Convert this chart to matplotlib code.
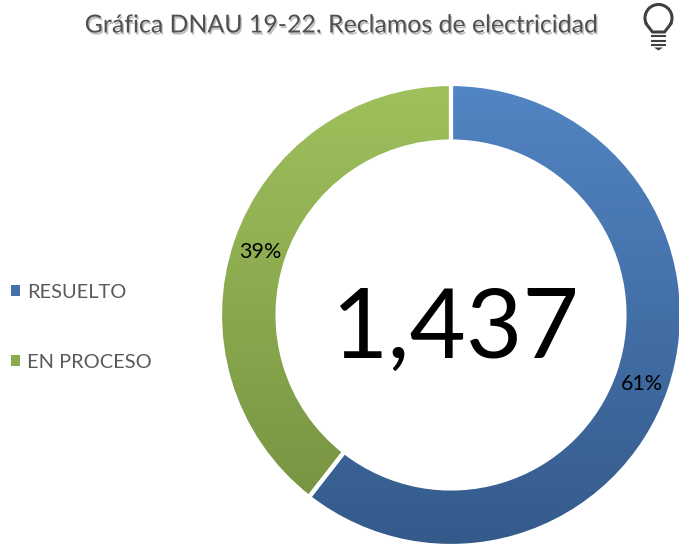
import matplotlib
matplotlib.use('Agg')
from matplotlib import pyplot as plt
from matplotlib import patheffects as pe
from matplotlib.colors import LinearSegmentedColormap
from matplotlib.patches import Patch, Circle, Rectangle, Polygon
import numpy as np

plt.rcParams['font.family'] = ['Lato', 'DejaVu Sans']

labels = ['RESUELTO', 'EN PROCESO']
counts = [870, 567]
total_text = '1,437'
title = 'Gráfica DNAU 19-22. Reclamos de electricidad'
top_colors = ['#5285C4', '#9FC15C']
bottom_colors = ['#345A8A', '#738F3F']
legend_colors = ['#4472A8', '#8AAA4E']

W, H = 679, 545
fig = plt.figure(figsize=(W / 100, H / 100), dpi=100)

# overlay in pixels for title and icon
over = fig.add_axes([0, 0, 1, 1])
over.set_xlim(0, W)
over.set_ylim(H, 0)
over.axis('off')

# donut
cx, cy, r = 451, 315, 231
ax = fig.add_axes([(cx - r) / W, 1 - (cy + r) / H, 2 * r / W, 2 * r / H])
wedges, _, pcts = ax.pie(counts, startangle=90, counterclock=False, radius=1,
                         autopct='%.0f%%', pctdistance=0.875,
                         wedgeprops=dict(width=0.249, facecolor='none', edgecolor='white', linewidth=3),
                         textprops=dict(fontsize=15.5, color='black'))
for t in pcts:
    x, y = t.get_position()
    t.set_position((x, y - 0.012))
ax.set_xlim(-1, 1)
ax.set_ylim(-1, 1)

grad = np.linspace(0, 1, 256).reshape(-1, 1)
for w, c0, c1 in zip(wedges, top_colors, bottom_colors):
    cmap = LinearSegmentedColormap.from_list('g', [c0, c1])
    im = ax.imshow(grad, extent=(-1, 1, -1, 1), origin='upper', cmap=cmap, aspect='auto', zorder=0)
    im.set_clip_path(w.get_path(), w.get_transform())
ax.set_xlim(-1, 1)
ax.set_ylim(-1, 1)

ax.text(0.017, -0.07, total_text, ha='center', va='center', fontsize=70, color='black')

# title with soft shadow
over.text(341, 25, title, ha='center', va='center', fontsize=17.9, color='#505050',
          path_effects=[pe.SimplePatchShadow(offset=(1, -1.5), shadow_rgbFace='#b0b0b0', alpha=0.8), pe.Normal()])

# legend
handles = [Patch(facecolor=c, edgecolor='none') for c in legend_colors]
fig.legend(handles, labels, loc='center left', bbox_to_anchor=(11 / W, 1 - 327 / H), frameon=False,
           fontsize=14.4, labelcolor='#595959', handlelength=0.47, handleheight=0.47,
           handletextpad=0.33, labelspacing=2.65, borderpad=0, borderaxespad=0)

# light bulb icon
ic = '#404040'
over.add_patch(Circle((658.5, 18), 13.5, facecolor='none', edgecolor=ic, linewidth=2.2))
over.add_patch(Rectangle((644, 24), 29, 12, facecolor='white', edgecolor='none', zorder=2))
over.plot([646.3, 652.5, 664.5, 670.7], [24, 32, 32, 24], color=ic, lw=2.2, zorder=3)
for y in (36, 40.5, 45):
    over.plot([652, 665], [y, y], color=ic, lw=1.5, zorder=3)
over.add_patch(Polygon([[654, 47.5], [663, 47.5], [658.5, 50.5]], facecolor=ic, edgecolor='none', zorder=3))

fig.savefig('out.png', dpi=100)
